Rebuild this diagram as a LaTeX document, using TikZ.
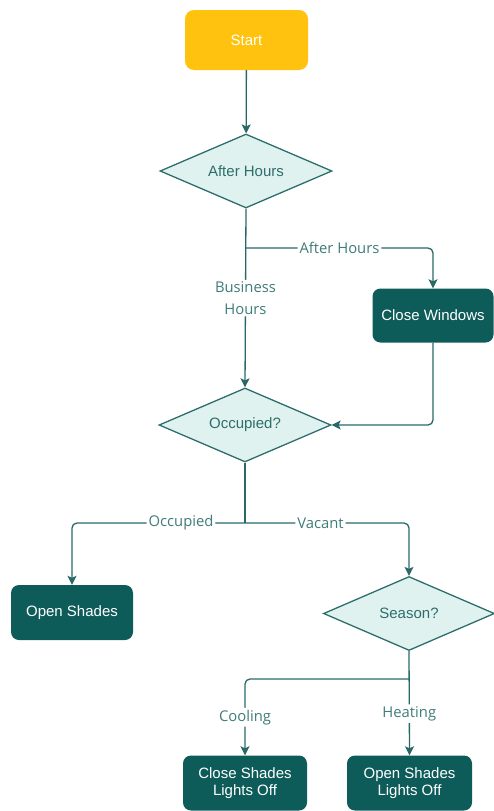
\documentclass[tikz,border=0pt]{standalone}
\usepackage{fontspec}
\setmainfont{Liberation Sans}
\newfontfamily\labelfont{Open Sans}
\usetikzlibrary{shapes.geometric,arrows.meta}

\definecolor{startgold}{HTML}{FFC20E}
\definecolor{actionteal}{HTML}{0E5C59}
\definecolor{decisionfill}{HTML}{E0F2F0}
\definecolor{decisionline}{HTML}{2D6E6C}
\definecolor{flowline}{HTML}{2A6868}
\definecolor{labeltext}{HTML}{3F7C7A}

\tikzset{
  startbox/.style={draw=none, fill=startgold, rounded corners=9pt,
    minimum width=123pt, minimum height=60pt, text=white,
    font=\fontsize{15}{17}\selectfont},
  actionbox/.style={draw=none, fill=actionteal, rounded corners=8pt,
    minimum width=122pt, minimum height=55pt, text=white, align=center,
    font=\fontsize{15}{17.5}\selectfont},
  decision/.style={diamond, aspect=2.3, draw=decisionline, line width=1.3pt,
    fill=decisionfill, inner sep=0pt, minimum width=172pt, minimum height=74pt,
    text=decisionline, font=\fontsize{15}{17}\selectfont},
  flow/.style={draw=flowline, line width=1.3pt, rounded corners=5pt,
    -{Stealth[length=9pt,width=9pt,inset=2pt]}},
  trunk/.style={draw=flowline, line width=1.3pt},
  edgelabel/.style={fill=white, text=labeltext, inner sep=2pt, align=center,
    font=\labelfont\fontsize{14.8}{21.5}\selectfont}
}

\begin{document}
\begin{tikzpicture}[x=1pt, y=-1pt]
  \useasboundingbox (0,0) rectangle (493,811);

  % nodes
  \node[startbox]  (start)  at (246.5,40)  {Start};
  \node[decision]  (ah)     at (246,171)   {After Hours};
  \node[actionbox, minimum width=121pt, minimum height=54pt] (cw) at (433,315.5) {Close Windows};
  \node[decision]  (oc)     at (245,425)   {Occupied?};
  \node[actionbox] (os)     at (72,612.5)  {Open Shades};
  \node[decision, minimum width=171pt] (se) at (409,613.5) {Season?};
  \node[actionbox, minimum width=124pt] (cs) at (245,783) {Close Shades\\Lights Off};
  \node[actionbox, minimum width=125pt] (ol) at (409.5,783) {Open Shades\\Lights Off};

  % branch points
  \coordinate (j1) at (246,248);
  \coordinate (j2) at (245,523);
  \coordinate (j3) at (409,679);

  % connectors
  \draw[flow] (start) -- (ah);
  \draw[flow] (ah.south) -- node[edgelabel, pos=0.5]{Business\\Hours} (oc.north);
  \draw[flow] (j1) -- node[edgelabel, pos=0.5]{After Hours} (cw.north |- j1) -- (cw.north);
  \draw[flow] (cw.south) |- (oc.east);

  \draw[trunk] (oc.south) -- (j2);
  \draw[flow] (j2) -- node[edgelabel, pos=0.37]{Occupied} (os.north |- j2) -- (os.north);
  \draw[flow] (j2) -- node[edgelabel, pos=0.46]{Vacant} (se.north |- j2) -- (se.north);

  \draw[flow] (se.south) -- node[edgelabel, pos=0.6]{Heating} (ol.north);
  \draw[flow] (j3) -- (cs.north |- j3) -- node[edgelabel, pos=0.5]{Cooling} (cs.north);
\end{tikzpicture}
\end{document}
